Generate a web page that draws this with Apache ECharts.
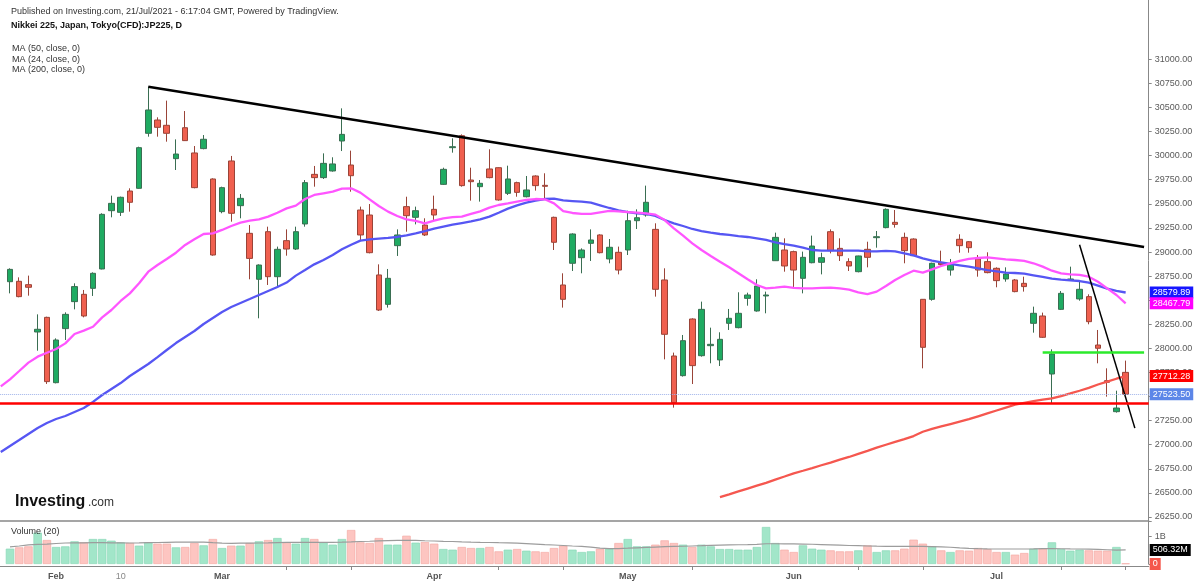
<!DOCTYPE html>
<html><head><meta charset="utf-8">
<script src="https://cdn.jsdelivr.net/npm/echarts@6/dist/echarts.min.js"></script>
<style>html,body{margin:0;padding:0;background:#fff}#c{width:1200px;height:586px}</style>
</head><body><div id="c"></div>
<script>
// ---- trading days shown on the chart (first day = MA-only slot, last two = empty future slots)
const tradingDays = {
  '2021-01': [22,25,26,27,28,29],
  '2021-02': [1,2,3,4,5,8,9,10,12,15,16,17,18,19,22,24,25,26],
  '2021-03': [1,2,3,4,5,8,9,10,11,12,15,16,17,18,19,22,23,24,25,26,29,30,31],
  '2021-04': [1,2,5,6,7,8,9,12,13,14,15,16,19,20,21,22,23,26,27,28,30],
  '2021-05': [6,7,10,11,12,13,14,17,18,19,20,21,24,25,26,27,28,31],
  '2021-06': [1,2,3,4,7,8,9,10,11,14,15,16,17,18,21,22,23,24,25,28,29,30],
  '2021-07': [1,2,5,6,7,8,9,12,13,14,15,16,19,20,21,22,23]
};
const firstCandle = '2021-01-25';
const axisLabels = {'2021-02-01':'Feb','2021-02-10':'10','2021-03-01':'Mar','2021-04-01':'Apr','2021-05-06':'May','2021-06-01':'Jun','2021-07-01':'Jul'};
const minorTicks = ['2021-03-10','2021-03-19','2021-04-12','2021-04-21','2021-05-17','2021-06-10','2021-06-21','2021-07-12','2021-07-21'];

// ---- OHLC (from 2021-01-25)
const opens = [28692,28696,28661,28170,28322,27644,28205,28485,28561,28623, 28824,29429,29412,29633,29661,30232,30370,30315,29969,30290, 30028,30073,29758,29419,29945,29481,29194,28717,29211,28744, 29118,29031,29291,29806,29772,29841,30152,29903,29436,29384, 28762,28457,29066,29471,29360,29280,29443,29702,30083,30207, 29747,29678,29862,29875,29609,29720,29574,29789,29692,29360, 28658,28883,28941,29090,29177,28928,28997,29021,29325,29384, 29235,28710,27921,27717,28305,27924,28028,27880,28260,28215, 28519,28388,28544,28910,29021,29004,28727,28889,28893,29211, 29038,28900,28796,29028,29149,29253,29308,29152,29135,28509, 28509,28886,28813,29132,29107,28928,28900,28831,28720,28710, 28675,28260,28336,27734,28405,28710,28513,28537,28035,27665, 27343,27751];
const closes = [28820,28537,28634,28198,27655,28087,28353,28641,28336,28779, 29391,29505,29568,29516,30083,30474,30294,30232,30017,30156, 29668,30170,28969,29668,29402,29557,28934,28865,28744,29028, 29031,29211,29720,29772,29920,29914,30221,29792,29177,28993, 28398,28727,29177,29377,29429,29177,29384,29858,30093,29689, 29730,29713,29772,29540,29758,29619,29644,29689,29682,29101, 28509,29187,29021,29125,28993,29049,28813,29325,29356,29516, 28613,28146,27437,28080,27821,28405,28042,28094,28312,28364, 28554,28647,28554,29152,28855,28813,28945,29062,28941,29014, 28962,28855,28959,28945,29159,29443,29287,29014,28962,28011, 28883,28869,28876,29066,29045,28813,28786,28703,28772,28589, 28641,28364,28115,27942,28571,28720,28613,28277,28001,27648, 27381,27523.5];
const lows = [28571,28530,28547,27976,27631,27637,28087,28405,28322,28544, 28820,29360,29374,29419,29657,30197,30197,30145,29851,30152, 29661,30066,28962,29402,29315,29350,28717,28312,28658,28640, 28962,29021,29263,29678,29758,29834,30048,29626,29125,28986, 28388,28423,28959,29211,29287,29166,29332,29696,30031,29678, 29533,29523,29765,29533,29592,29574,29567,29637,29550,29021, 28423,28803,28779,28907,28986,28883,28768,28969,29239,29367, 28537,27886,27385,27707,27630,27914,27845,27817,28191,28208, 28443,28381,28364,28907,28796,28623,28571,28883,28768,28986, 28907,28803,28789,28841,29045,29246,29253,28883,28959,27793, 28495,28855,28755,28993,28993,28744,28779,28634,28692,28582, 28589,28163,28108,27423,28398,28703,28495,28250,27845,27499, 27333,27516];
const highs = [28831,28737,28755,28353,28329,28104,28374,28675,28606,28789, 29402,29585,29575,29661,30093,30716,30398,30571,30169,30463, 30100,30214,29765,29678,29997,29602,29280,28872,29263,29056, 29235,29263,29747,29893,30024,29983,30491,30052,29471,29498, 28872,28824,29235,29574,29471,29350,29585,29875,30180,30221, 29875,29747,30066,29879,29896,29730,29789,29796,29817,29367, 28779,29194,29038,29235,29184,29135,29056,29429,29443,29689, 29298,28831,27956,28139,28312,28485,28215,28167,28409,28582, 28578,28717,28589,29201,29142,29014,29004,29170,28993,29235, 29142,28935,28962,29107,29218,29453,29436,29201,29142,28512, 28889,29014,28928,29184,29114,28969,28997,28841,28841,28720, 28744,28433,28371,27990,28595,28848,28692,28561,28191,27793, 27561,27873];

// ---- moving averages (ma24, ma50 start at 2021-01-22; ma200 starts 2021-05-20)
const ma24 = [27605, 27679,27765,27852,27914,27955,27994,28052,28149,28184,28225, 28322,28398,28492,28571,28675,28796,28865,28928,28993,29073, 29132,29187,29194,29229,29270,29305,29325,29339,29367,29408, 29453,29481,29550,29592,29609,29626,29658,29661,29616,29547, 29478,29419,29374,29339,29322,29298,29325,29350,29363,29367, 29395,29422,29460,29488,29505,29523,29540,29550,29547,29505, 29425,29405,29395,29395,29412,29426,29422,29415,29408,29401, 29388,29332,29246,29170,29090,29021,28959,28900,28841,28779, 28717,28658,28623,28630,28641,28627,28623,28623,28627,28630, 28623,28610,28582,28564,28589,28647,28710,28762,28806,28786, 28820,28855,28883,28907,28928,28938,28945,28935,28924,28917, 28907,28883,28848,28806,28779,28768,28762,28744,28692,28623, 28554,28467.79];
const ma50 = [26925, 26987,27049,27112,27174,27226,27267,27298,27340,27381,27444, 27516,27578,27640,27713,27775,27838,27910,27983,28055,28118, 28180,28253,28315,28377,28429,28471,28512,28554,28596,28637, 28683,28755,28813,28872,28917,28969,29028,29076,29118,29132, 29139,29146,29156,29173,29194,29218,29242,29263,29284,29301, 29318,29339,29367,29408,29450,29484,29512,29533,29550,29554, 29535,29529,29523,29512,29485,29457,29433,29415,29401,29395, 29374,29332,29298,29270,29239,29218,29201,29187,29177,29166, 29156,29142,29125,29101,29083,29066,29045,29021,29014,29014, 29014,29015,29014,29007,29007,29011,29007,28986,28966,28934, 28910,28893,28876,28862,28848,28831,28813,28800,28786,28782, 28775,28758,28741,28723,28713,28706,28699,28682,28651,28620, 28596,28579.89];
const ma200Start = '2021-05-20';
const ma200 = [26457,26485,26515,26545,26575,26605,26638,26670,26703,26730,26758,26787,26815,26845,26873,26905,26937,26970,27000,27030,27058,27090,27135,27165,27190,27215,27240,27265,27295,27325,27355,27385,27415,27435,27452,27468,27480,27505,27532,27560,27590,27625,27655,27685,27712.28];

// ---- volume in millions (from 2021-01-25) and its 20-period MA
const volumeM = [553,601,637,1130,866,614,637,818,782,902, 902,842,782,758,662,782,734,734,601,614, 758,674,902,577,662,662,758,818,866,938, 782,734,938,902,782,698,902,1227,782,758, 938,698,698,1020,770,794,734,541,517,614, 577,577,614,457,517,541,481,457,433,577, 662,517,433,457,553,553,758,902,637,637, 698,854,758,698,614,698,637,541,541,517, 517,614,1336,758,517,433,674,553,517,493, 457,457,493,674,433,493,493,553,878,734, 637,493,433,493,481,577,541,433,433,337, 397,553,553,782,541,481,517,493,481,481, 614,20];
const volMA20M = [620,650,690,705,720,740,758,762,766,770, 770,766,762,758,762,770,776,782,786,790, 794,790,770,755,746,750,754,758,760,770, 778,782,782,782,782,782,790,800,812,822, 835,845,850,854,852,840,830,820,812,800, 790,782,776,768,760,752,735,718,700,685, 668,650,634,610,575,558,556,570,585,600, 612,624,634,640,650,660,672,680,688,694, 700,710,730,730,728,725,720,712,702,690, 678,668,660,650,642,638,637,637,637,637, 630,620,605,580,562,552,545,541,541,541, 541,546,552,552,550,545,541,540,530,515, 500,506.32];

// ---- drawn levels / trend lines (date, price)
const resistanceLine = [['2021-02-16', 30716], ['2021-07-23', 29053]];
const steepLine = [['2021-07-14', 29075], ['2021-07-22', 27172]];
const greenLevel = [['2021-07-08', 27957], ['2021-07-23', 27957]];
const redLevel = 27430;
const lastPrice = 27523.5;

// ---- build
const categories = [];
Object.keys(tradingDays).forEach(ym => tradingDays[ym].forEach(d => categories.push(ym + '-' + String(d).padStart(2, '0'))));
const c0 = categories.indexOf(firstCandle);
const idx = d => categories.indexOf(d);
const pad = (arr, start) => categories.map((c, i) => (i - start >= 0 && i - start < arr.length) ? arr[i - start] : '-');

const candleData = categories.map((c, i) => {
  const k = i - c0;
  return (k >= 0 && k < opens.length) ? [opens[k], closes[k], lows[k], highs[k]] : ['-', '-', '-', '-'];
});
const volData = categories.map((c, i) => {
  const k = i - c0;
  if (k < 0 || k >= volumeM.length) return '-';
  const up = closes[k] >= opens[k];
  return { value: volumeM[k] * 1e6, itemStyle: { color: up ? '#a2e6c9' : '#fdc5c1', borderColor: up ? '#8bd9b7' : '#f4aca6' } };
});
const volMAData = pad(volMA20M.map(v => v * 1e6), c0);

const FONT = '"Liberation Sans", Arial, sans-serif';
const boxLabel = (text, bg) => ({ show: true, position: 'end', distance: 1, formatter: text, color: '#fff', backgroundColor: bg, padding: [2, 3, 1, 3], fontSize: 9, fontFamily: FONT });
const hidden = { color: 'rgba(0,0,0,0)', width: 0 };
const GL = -3.83, GR = 51.3;

const option = {
  animation: false,
  textStyle: { fontFamily: FONT },
  grid: [
    { left: GL, right: GR, top: 59.3, height: 457.7, containLabel: false, outerBoundsMode: 'none' },
    { left: GL, right: GR, top: 521, height: 43, containLabel: false, outerBoundsMode: 'none' },
    { left: GL, right: GR, top: 0, height: 521, containLabel: false, outerBoundsMode: 'none' }
  ],
  xAxis: [
    { gridIndex: 0, type: 'category', data: categories, boundaryGap: true, show: false },
    { gridIndex: 1, type: 'category', data: categories, boundaryGap: true, position: 'bottom', offset: 2,
      axisLine: { onZero: false, lineStyle: { color: '#888', width: 1 } },
      axisTick: { show: true, alignWithLabel: true, length: 4, interval: (i, v) => minorTicks.indexOf(v) >= 0, lineStyle: { color: '#888' } },
      axisLabel: { interval: (i, v) => axisLabels[v] !== undefined, margin: 6,
        formatter: v => axisLabels[v] === '10' ? '{d|10}' : '{m|' + (axisLabels[v] || '') + '}',
        rich: { m: { fontSize: 9, fontWeight: 'bold', color: '#555', fontFamily: FONT }, d: { fontSize: 9, color: '#888', fontFamily: FONT } } },
      splitLine: { show: false } },
    { gridIndex: 1, type: 'category', data: categories, boundaryGap: true, position: 'top',
      axisLine: { onZero: false, lineStyle: { color: '#888', width: 1.5 } }, axisTick: { show: false }, axisLabel: { show: false }, splitLine: { show: false } },
    { gridIndex: 2, type: 'value', min: 0, max: 1, show: false }
  ],
  yAxis: [
    { gridIndex: 0, type: 'value', position: 'right', min: 26250, max: 31000, interval: 250,
      axisLine: { show: false }, axisTick: { show: true, length: 3, lineStyle: { color: '#888' } },
      axisLabel: { fontSize: 9, color: '#5a5a5a', margin: 6, formatter: v => v.toFixed(2) }, splitLine: { show: false } },
    { gridIndex: 1, type: 'value', position: 'right', min: 0, max: 1.552e9, interval: 1e9,
      axisLine: { show: true, lineStyle: { color: '#888' } }, axisTick: { show: true, length: 3, lineStyle: { color: '#888' } },
      axisLabel: { fontSize: 9, color: '#5a5a5a', margin: 6, formatter: v => Math.abs(v - 1e9) < 1 ? '1B' : '' }, splitLine: { show: false } },
    { gridIndex: 2, type: 'value', position: 'right', min: 0, max: 1,
      axisLine: { show: true, onZero: false, lineStyle: { color: '#888' } }, axisTick: { show: false }, axisLabel: { show: false }, splitLine: { show: false } }
  ],
  series: [
    { name: 'JP225', type: 'candlestick', xAxisIndex: 0, yAxisIndex: 0, data: candleData, barWidth: 6, clip: false,
      itemStyle: { color: '#1fab62', color0: '#f0604f', borderColor: '#3a6e52', borderColor0: '#9a4438', borderWidth: 1 },
      markLine: { symbol: ['none', 'none'], silent: true, animation: false, label: { show: false },
        data: [
          [{ coord: [idx(resistanceLine[0][0]), resistanceLine[0][1]], lineStyle: { color: '#000', width: 2.6, type: 'solid' } }, { coord: [idx(resistanceLine[1][0]), resistanceLine[1][1]] }],
          [{ coord: [idx(steepLine[0][0]), steepLine[0][1]], lineStyle: { color: '#000', width: 1.5, type: 'solid' } }, { coord: [idx(steepLine[1][0]), steepLine[1][1]] }],
          [{ coord: [idx(greenLevel[0][0]), greenLevel[0][1]], lineStyle: { color: '#2bea2b', width: 2.6, type: 'solid' } }, { coord: [idx(greenLevel[1][0]), greenLevel[1][1]] }],
          { yAxis: redLevel, lineStyle: { color: '#ff0000', width: 2.6, type: 'solid' } },
          { yAxis: lastPrice, lineStyle: { color: '#9fb3ea', width: 1, type: 'dotted' }, label: boxLabel(lastPrice.toFixed(2), '#5c86e8') }
        ] } },
    { name: 'MA50', type: 'line', xAxisIndex: 0, yAxisIndex: 0, data: pad(ma50, 0), showSymbol: false, clip: false,
      lineStyle: { color: '#5656f3', width: 2.3 },
      markLine: { symbol: ['none', 'none'], silent: true, data: [{ yAxis: ma50[ma50.length - 1], lineStyle: hidden, label: boxLabel(ma50[ma50.length - 1].toFixed(2), '#1616ff') }] } },
    { name: 'MA24', type: 'line', xAxisIndex: 0, yAxisIndex: 0, data: pad(ma24, 0), showSymbol: false, clip: false,
      lineStyle: { color: '#ff55ff', width: 2.3 },
      markLine: { symbol: ['none', 'none'], silent: true, data: [{ yAxis: ma24[ma24.length - 1], lineStyle: hidden, label: boxLabel(ma24[ma24.length - 1].toFixed(2), '#ff00ff') }] } },
    { name: 'MA200', type: 'line', xAxisIndex: 0, yAxisIndex: 0, data: pad(ma200, idx(ma200Start)), showSymbol: false, clip: false,
      lineStyle: { color: '#f5574f', width: 2.3 },
      markLine: { symbol: ['none', 'none'], silent: true, data: [{ yAxis: ma200[ma200.length - 1], lineStyle: hidden, label: boxLabel(ma200[ma200.length - 1].toFixed(2), '#ff0000') }] } },
    { name: 'Volume', type: 'bar', xAxisIndex: 1, yAxisIndex: 1, data: volData, barWidth: 8.4, clip: false,
      itemStyle: { borderWidth: 0.7 },
      markLine: { symbol: ['none', 'none'], silent: true, data: [{ yAxis: 0, lineStyle: hidden, label: boxLabel('0', '#f5574c') }] } },
    { name: 'Volume MA', type: 'line', xAxisIndex: 1, yAxisIndex: 1, data: volMAData, showSymbol: false, clip: false,
      lineStyle: { color: '#9c9c9c', width: 1.2 },
      markLine: { symbol: ['none', 'none'], silent: true, data: [{ yAxis: volMA20M[volMA20M.length - 1] * 1e6, lineStyle: hidden, label: boxLabel('506.32M', '#000') }] } }
  ],
  graphic: [
    { type: 'text', left: 11, top: 7.5, z: 10, style: { text: 'Published on Investing.com, 21/Jul/2021 - 6:17:04 GMT, Powered by TradingView.', font: '9px ' + FONT, fill: '#333' } },
    { type: 'text', left: 11, top: 21, z: 10, style: { text: 'Nikkei 225, Japan, Tokyo(CFD):JP225, D', font: 'bold 9px ' + FONT, fill: '#111' } },
    { type: 'text', left: 12, top: 44, z: 10, style: { text: 'MA (50, close, 0)', font: '9px ' + FONT, fill: '#333' } },
    { type: 'text', left: 12, top: 55, z: 10, style: { text: 'MA (24, close, 0)', font: '9px ' + FONT, fill: '#333' } },
    { type: 'text', left: 12, top: 65.5, z: 10, style: { text: 'MA (200, close, 0)', font: '9px ' + FONT, fill: '#333' } },
    { type: 'text', left: 15, top: 494, z: 10, style: { text: 'Investing', font: 'bold 16px ' + FONT, fill: '#111' } },
    { type: 'text', left: 88, top: 497, z: 10, style: { text: '.com', font: '12px ' + FONT, fill: '#333' } },
    { type: 'text', left: 11, top: 527, z: 10, style: { text: 'Volume (20)', font: '9px ' + FONT, fill: '#333' } }
  ]
};
const chart = echarts.init(document.getElementById('c'));
chart.setOption(option);
</script></body></html>
